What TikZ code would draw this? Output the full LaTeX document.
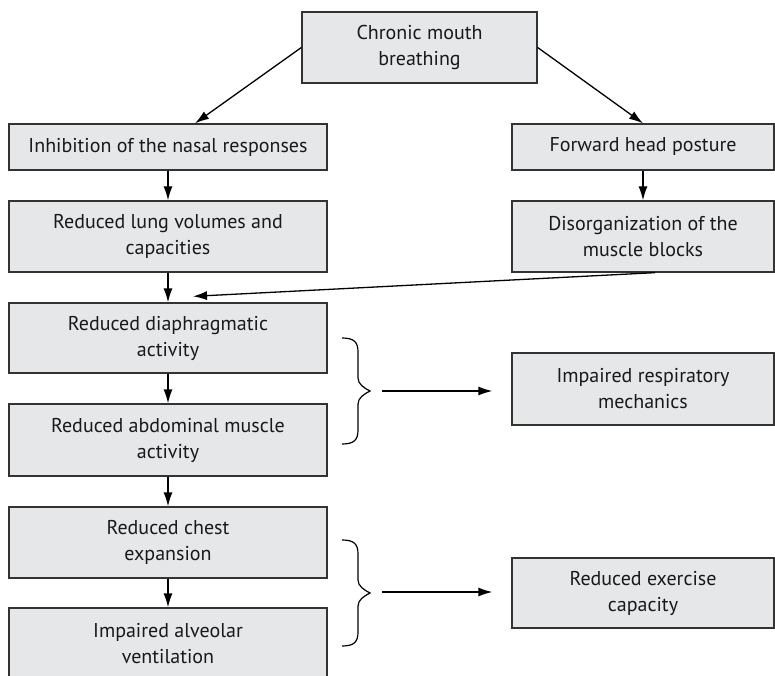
\documentclass[tikz,border=0pt]{standalone}
\usepackage{fontspec}
\setmainfont{PT Sans}
\usetikzlibrary{arrows.meta}
\definecolor{boxgray}{RGB}{230,231,232}
\tikzset{
  box/.style={draw=black!80, fill=boxgray, line width=1.3pt, align=center, inner sep=0pt,
    text=black!90, font=\fontsize{20}{26}\selectfont},
  wide/.style={box, minimum width=318pt},
  side/.style={box, minimum width=262pt},
  link/.style={-{Latex[length=14pt,width=9pt]}, line width=1.3pt},
  curly/.style={line width=1.2pt}
}
\begin{document}
\begin{tikzpicture}[x=1pt, y=-1pt]
  \useasboundingbox (0,0) rectangle (775,676);
  \clip (0,0) rectangle (775,676);

  \node [box, minimum width=235pt, minimum height=71pt] (mouth) at (419.5,47.5) {Chronic mouth\\breathing};

  \node [wide, minimum height=46pt] (nasal) at (168,147) {Inhibition of the nasal responses};
  \node [wide, minimum height=71pt] (lung) at (168,236.5) {Reduced lung volumes and\\capacities};
  \node [wide, minimum height=70pt] (diaph) at (168,338) {Reduced diaphragmatic\\activity};
  \node [wide, minimum height=72pt] (abdom) at (168,440) {Reduced abdominal muscle\\activity};
  \node [wide, minimum height=71pt] (chest) at (168,542.5) {Reduced chest\\expansion};
  \node [wide, minimum height=71pt] (alveo) at (168,643.5) {Impaired alveolar\\ventilation};

  \node [side, minimum height=46pt] (head) at (643,147) {Forward head posture};
  \node [side, minimum height=71pt] (muscle) at (643,236.5) {Disorganization of the\\muscle blocks};
  \node [side, minimum height=72pt] (mech) at (643,389) {Impaired respiratory\\mechanics};
  \node [side, minimum height=70pt] (exer) at (643,593) {Reduced exercise\\capacity};

  \draw [link] (mouth.west) -- ([xshift=27pt]nasal.north);
  \draw [link] (mouth.east) -- (head.north);
  \draw [link] (nasal) -- (lung);
  \draw [link] (lung) -- (diaph);
  \draw [link] (diaph) -- (abdom);
  \draw [link] (abdom) -- (chest);
  \draw [link] (chest) -- (alveo);
  \draw [link] (head) -- (muscle);
  \draw [link] ([xshift=12pt]muscle.south) -- ([xshift=25pt,yshift=6pt]diaph.north);

  \draw [curly] (342,338) .. controls (354,338) and (358,342) .. (358,352) -- (358,378)
    .. controls (358,384) and (364,388) .. (370,391)
    .. controls (364,394) and (358,398) .. (358,404) -- (358,430)
    .. controls (358,440) and (354,444) .. (342,444);
  \draw [curly] (342,540) .. controls (354,540) and (358,544) .. (358,554) -- (358,580)
    .. controls (358,586) and (364,590) .. (370,593)
    .. controls (364,596) and (358,600) .. (358,606) -- (358,632)
    .. controls (358,642) and (354,646) .. (342,646);

  \coordinate (brace1) at (382,391);
  \coordinate (brace2) at (382,592);
  \draw [link] (brace1) -- ([xshift=-19pt]brace1 -| mech.west);
  \draw [link] (brace2) -- ([xshift=-19pt]brace2 -| exer.west);
\end{tikzpicture}
\end{document}
